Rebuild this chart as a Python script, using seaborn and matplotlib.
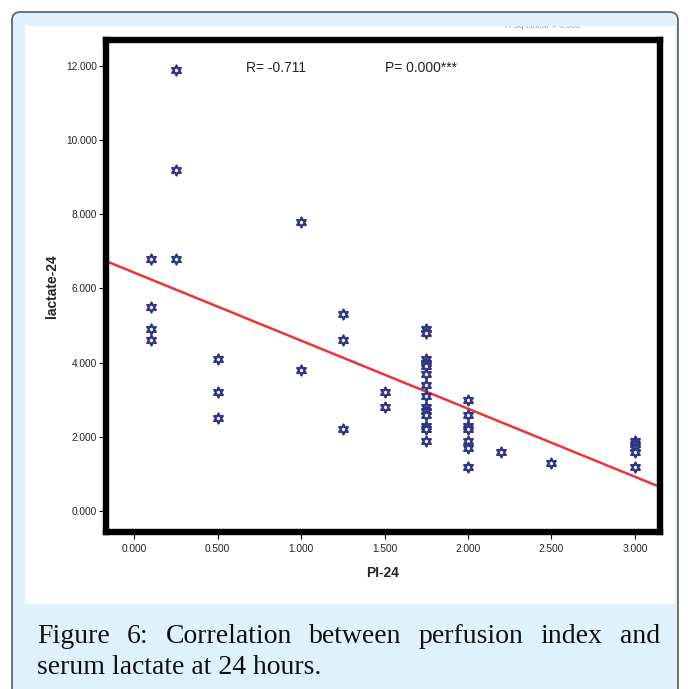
import numpy as np
import pandas as pd
import matplotlib
matplotlib.use("Agg")
import matplotlib.pyplot as plt
import seaborn as sns
from matplotlib.patches import FancyBboxPatch, Rectangle

# Values (PI at 24 h vs serum lactate at 24 h)
pi_24 = [0.1] * 4 + [0.25] * 3 + [0.5] * 3 + [1.0] * 2 + [1.25] * 3 + [1.5] * 2 \
    + [1.75] * 14 + [2.0] * 7 + [2.2] + [2.5] + [3.0] * 5
lactate_24 = [6.8, 5.5, 4.9, 4.6,
              11.9, 9.2, 6.8,
              4.1, 3.2, 2.5,
              7.8, 3.8,
              5.3, 4.6, 2.2,
              3.2, 2.8,
              4.9, 4.8, 4.1, 4.0, 3.9, 3.7, 3.4, 3.1, 2.8, 2.7, 2.6, 2.3, 2.2, 1.9,
              3.0, 2.6, 2.3, 2.2, 1.9, 1.7, 1.2,
              1.6,
              1.3,
              1.9, 1.8, 1.7, 1.6, 1.2]
x_ticks = [0.0, 0.5, 1.0, 1.5, 2.0, 2.5, 3.0]
y_ticks = [0.0, 2.0, 4.0, 6.0, 8.0, 10.0, 12.0]
r_text = "R= -0.711"
p_text = "P= 0.000***"
caption_line1 = "Figure 6: Correlation between perfusion index and"
caption_line2 = "serum lactate at 24 hours."

df = pd.DataFrame({"PI-24": pi_24, "lactate-24": lactate_24})

sns.set_style("white")
plt.rcParams["font.family"] = ["Liberation Sans", "DejaVu Sans"]

W, H = 688, 689
fig = plt.figure(figsize=(W / 100, H / 100), dpi=100)
fig.patch.set_facecolor("white")


def fx(px):
    return px / W


def fy(py):
    return 1 - py / H


# light blue card with rounded border and white chart area (behind the axes)
card = FancyBboxPatch((fx(12), fy(700)), fx(666), 688 / H, boxstyle="round,pad=0,rounding_size=0.012",
                      transform=fig.transFigure, facecolor="#dff1fb", edgecolor="#5a5a5a",
                      linewidth=1.2, zorder=-3)
fig.patches.append(card)
fig.patches.append(Rectangle((fx(25), fy(604)), fx(650), 578 / H, transform=fig.transFigure,
                             facecolor="white", edgecolor="none", zorder=-2))

# faint, mostly cut-off header text of the original export
fig.text(fx(505), fy(27), "R Sq Linear = 0.505", fontsize=6, color="#9a9a9a", va="center", zorder=-1.5)
fig.patches.append(Rectangle((fx(25), fy(26)), fx(650), 12 / H, transform=fig.transFigure,
                             facecolor="#dff1fb", edgecolor="none", zorder=-1))

ax = fig.add_axes([fx(106), fy(532), fx(660) - fx(106), (532 - 40) / H])
ax.set_xlim(-0.168, 3.15)
ax.set_ylim(-0.566, 12.70)

sns.regplot(data=df, x="PI-24", y="lactate-24", ax=ax, scatter=False, ci=None, truncate=False,
            line_kws={"color": "#e8363a", "linewidth": 1.8})
sns.scatterplot(data=df, x="PI-24", y="lactate-24", ax=ax, marker=(6, 1, 0), s=52,
                facecolor="white", edgecolor="#2e3583", linewidth=1.6, zorder=3)

ax.set_xlim(-0.168, 3.15)
ax.set_ylim(-0.566, 12.70)
ax.set_xticks(x_ticks)
ax.set_yticks(y_ticks)
ax.set_xticklabels([f"{v:.3f}" for v in x_ticks])
ax.set_yticklabels([f"{v:.3f}" for v in y_ticks])
ax.tick_params(axis="both", direction="out", length=5, width=0.8, color="black",
               labelsize=7.3, labelcolor="#222222", left=True, bottom=True)
ax.tick_params(axis="x", pad=3.5)
ax.tick_params(axis="y", pad=1.5)
for s in ax.spines.values():
    s.set_visible(True)
    s.set_color("black")
    s.set_linewidth(4.6)

ax.set_xlabel("PI-24", fontsize=10, fontweight="bold", labelpad=9)
ax.set_ylabel("lactate-24", fontsize=10, fontweight="bold", labelpad=5)

ax.text(0.67, 11.95, r_text, fontsize=10, color="#222222", va="center")
ax.text(1.5, 11.95, p_text, fontsize=10, color="#222222", va="center")

# justified caption
renderer = fig.canvas.get_renderer()
cap_kw = dict(fontsize=20, family="Liberation Serif", color="#111111", va="baseline")
words = caption_line1.split()
arts = [fig.text(0, fy(643), w_, **cap_kw) for w_ in words]
widths = [a.get_window_extent(renderer).width for a in arts]
x0, x1 = 37, 660
gap = (x1 - x0 - sum(widths)) / (len(words) - 1)
xpos = x0
for a, wd in zip(arts, widths):
    a.set_x(fx(xpos))
    xpos += wd + gap
fig.text(fx(x0), fy(674), caption_line2, **cap_kw)

fig.savefig("out.png", dpi=100, facecolor=fig.get_facecolor())
